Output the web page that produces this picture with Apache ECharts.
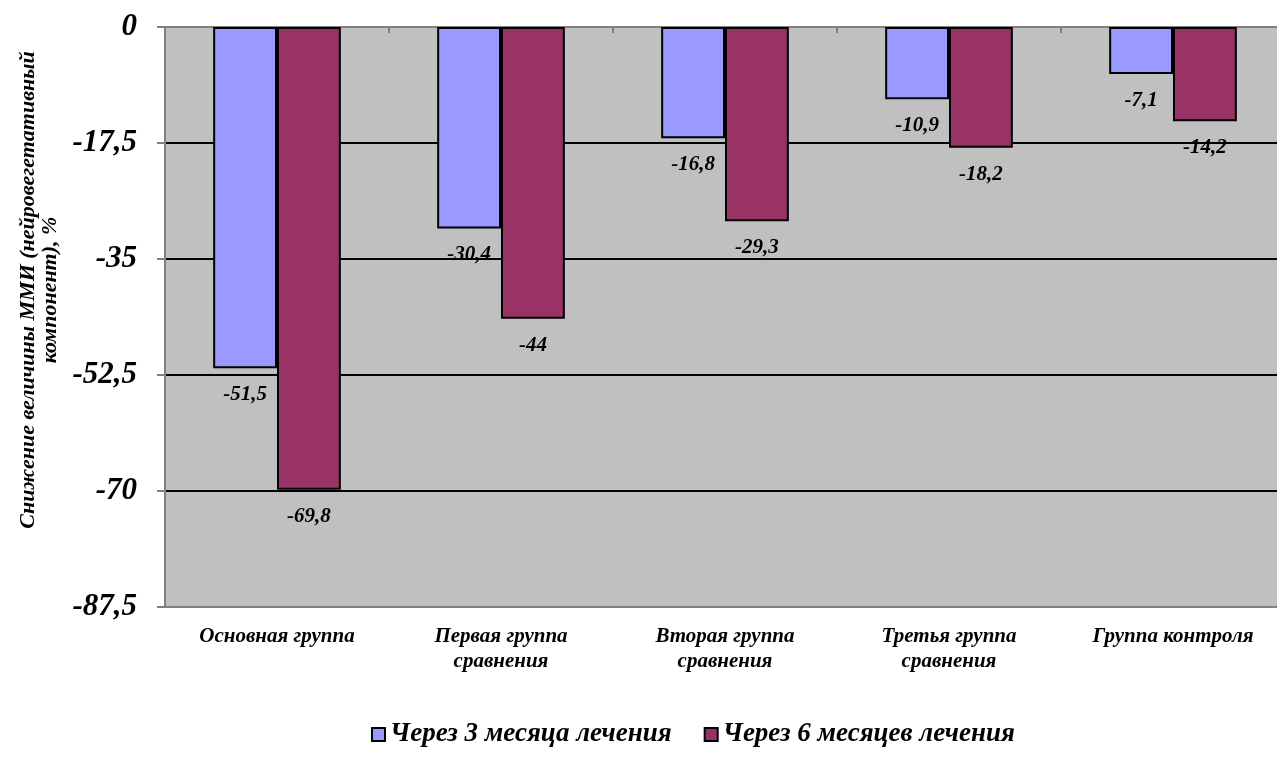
<!DOCTYPE html>
<html>
<head>
<meta charset="utf-8">
<script src="https://cdn.jsdelivr.net/npm/echarts@6/dist/echarts.min.js"></script>
<style>
html,body{margin:0;padding:0;background:#fff;}
#c{width:1277px;height:772px;}
</style>
</head>
<body>
<div id="c"></div>
<script>
const categories = ['Основная группа', 'Первая группа\nсравнения', 'Вторая группа\nсравнения', 'Третья группа\nсравнения', 'Группа контроля'];
const seriesNames = ['Через 3 месяца лечения', 'Через 6 месяцев лечения'];
const after3 = [-51.5, -30.4, -16.8, -10.9, -7.1];
const after6 = [-69.8, -44, -29.3, -18.2, -14.2];
const yMin = -87.5, yMax = 0, yStep = 17.5;

const font = 'Liberation Serif';
const fmt = v => String(v).replace('.', ',');
const chart = echarts.init(document.getElementById('c'));
const labelStyle = {
  show: true, position: 'bottom', distance: 16,
  fontFamily: font, fontStyle: 'italic', fontWeight: 'bold', fontSize: 21, color: '#000',
  formatter: p => fmt(p.value)
};
chart.setOption({
  animation: false,
  backgroundColor: '#fff',
  grid: {left: 165, top: 27, right: -8, bottom: 165, show: true, backgroundColor: '#c0c0c0', borderWidth: 0,
         containLabel: false, outerBoundsMode: 'none'},
  legend: {
    bottom: 19, left: 366, itemWidth: 13, itemHeight: 13, itemGap: 32, icon: 'rect',
    textStyle: {fontFamily: font, fontStyle: 'italic', fontWeight: 'bold', fontSize: 27, color: '#000'},
    data: seriesNames
  },
  xAxis: [{
    type: 'category', data: categories, position: 'bottom',
    axisLine: {show: true, onZero: false, lineStyle: {color: '#808080', width: 2}},
    axisTick: {show: false},
    axisLabel: {margin: 17, lineHeight: 25, fontFamily: font, fontStyle: 'italic', fontWeight: 'bold', fontSize: 21, color: '#000', interval: 0}
  }, {
    type: 'category', data: categories, position: 'top',
    axisLine: {show: true, onZero: false, lineStyle: {color: '#808080', width: 2}},
    axisTick: {show: true, inside: true, length: 6, lineStyle: {color: '#808080', width: 2}},
    axisLabel: {show: false}
  }],
  yAxis: {
    type: 'value', min: yMin, max: yMax, interval: yStep,
    name: 'Снижение величины ММИ (нейровегетативный\nкомпонент), %',
    nameLocation: 'middle', nameGap: 101, nameRotate: 90,
    nameTextStyle: {fontFamily: font, fontStyle: 'italic', fontWeight: 'bold', fontSize: 22, color: '#000', lineHeight: 22, padding: [0, 0, 0, 54]},
    axisLine: {show: true, lineStyle: {color: '#808080', width: 2}},
    axisTick: {show: true, length: 8, lineStyle: {color: '#808080', width: 2}},
    splitLine: {show: true, lineStyle: {color: '#000', width: 2}},
    axisLabel: {margin: 28, fontFamily: font, fontStyle: 'italic', fontWeight: 'bold', fontSize: 31, color: '#000', formatter: v => fmt(v)}
  },
  series: [{
    name: seriesNames[0], type: 'bar', data: after3, barGap: '0%', barCategoryGap: '43%',
    itemStyle: {color: '#9999ff', borderColor: '#000', borderWidth: 2},
    label: labelStyle
  }, {
    name: seriesNames[1], type: 'bar', data: after6, barGap: '0%', barCategoryGap: '43%',
    itemStyle: {color: '#993366', borderColor: '#000', borderWidth: 2},
    label: labelStyle
  }]
});
</script>
</body>
</html>
